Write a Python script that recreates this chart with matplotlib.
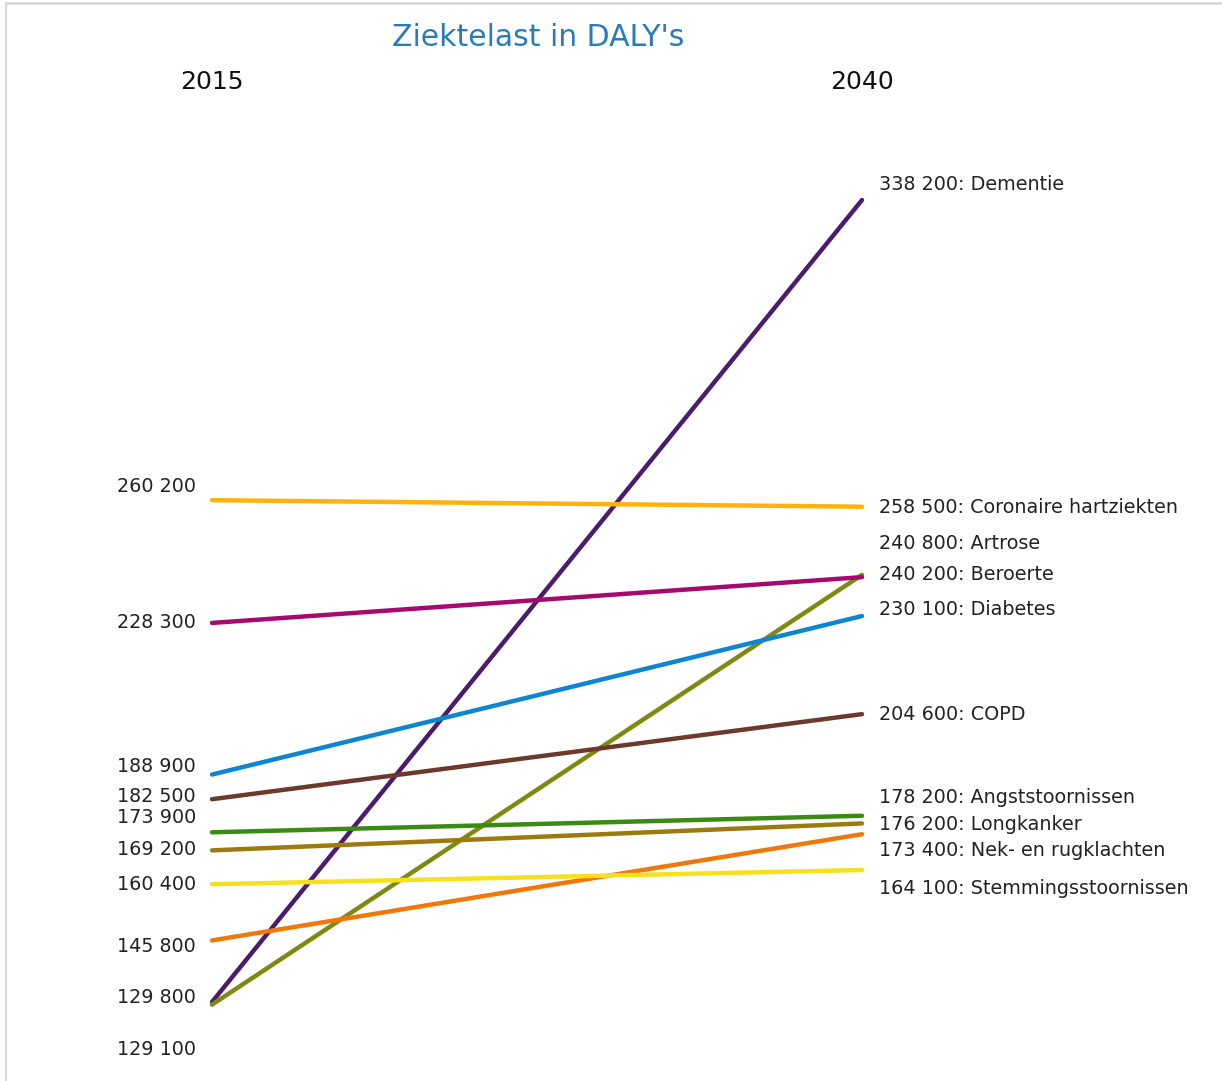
import matplotlib
matplotlib.use('Agg')
import matplotlib.pyplot as plt
from matplotlib.lines import Line2D

# slope chart data: DALY's 2015 -> 2040
diseases = ['Dementie', 'Coronaire hartziekten', 'Artrose', 'Beroerte', 'Diabetes',
            'COPD', 'Angststoornissen', 'Longkanker', 'Nek- en rugklachten',
            'Stemmingsstoornissen']
val_2015 = [129800, 260200, 129100, 228300, 188900, 182500, 173900, 169200, 145800, 160400]
val_2040 = [338200, 258500, 240800, 240200, 230100, 204600, 178200, 176200, 173400, 164100]
colors = ['#4b1c6c', '#ffb20d', '#7d8a0f', '#a60a6e', '#0d85d0', '#6b3a2c',
          '#3b8a14', '#9c7a10', '#f0780a', '#f7e11e']
# label shifts (pixels, downwards) to keep the labels apart
left_dy = [-4, -14, 45, 0, -8, -3, -15, -1, 6, 0]
right_dy = [-16, 1, -31, -3, -7, 0, -18, 1, 16, 18]
years = [2015, 2040]

W, H = 1222, 1081
fig = plt.figure(figsize=(W / 100, H / 100), dpi=100)
ax = fig.add_axes([0, 0, 1, 1])
# pixel mapping: 2015 at x=212, 2040 at x=862; 338200 at y=200, 129800 at y=1002
px_year = 650 / 25.0
px_val = 802 / (338200 - 129800)
ax.set_xlim(2015 - 212 / px_year, 2015 + (W - 212) / px_year)
ax.set_ylim(338200 - (H - 200) / px_val, 338200 + 200 / px_val)
ax.set_axis_off()

def fmt(v):
    return '{:,}'.format(v).replace(',', ' ')

fs = 13.8
for i in range(len(diseases)):
    ax.plot(years, [val_2015[i], val_2040[i]], color=colors[i], lw=3.2,
            solid_capstyle='round', zorder=2 if i == 0 else 3)
    ax.annotate(fmt(val_2015[i]), (2015, val_2015[i]), xytext=(-16, -left_dy[i]),
                textcoords='offset pixels', ha='right', va='center',
                fontsize=fs, color='#222222')
    ax.annotate(fmt(val_2040[i]) + ': ' + diseases[i], (2040, val_2040[i]),
                xytext=(17, -right_dy[i]), textcoords='offset pixels',
                ha='left', va='center', fontsize=fs, color='#222222')

fig.text(538 / W, 1 - 38 / H, "Ziektelast in DALY's", ha='center', va='center',
         fontsize=21.5, color='#2b7bb9')
fig.text(212 / W, 1 - 82 / H, '2015', ha='center', va='center', fontsize=18, color='#111111')
fig.text(862 / W, 1 - 82 / H, '2040', ha='center', va='center', fontsize=18, color='#111111')

# thin frame at the top and left edge
fig.add_artist(Line2D([6 / W, 1], [1 - 2.5 / H, 1 - 2.5 / H], color='#d8d8d8', lw=2,
                      transform=fig.transFigure))
fig.add_artist(Line2D([6 / W, 6 / W], [0, 1 - 2.5 / H], color='#d8d8d8', lw=1.5,
                      transform=fig.transFigure))

plt.savefig('out.png', dpi=100)
